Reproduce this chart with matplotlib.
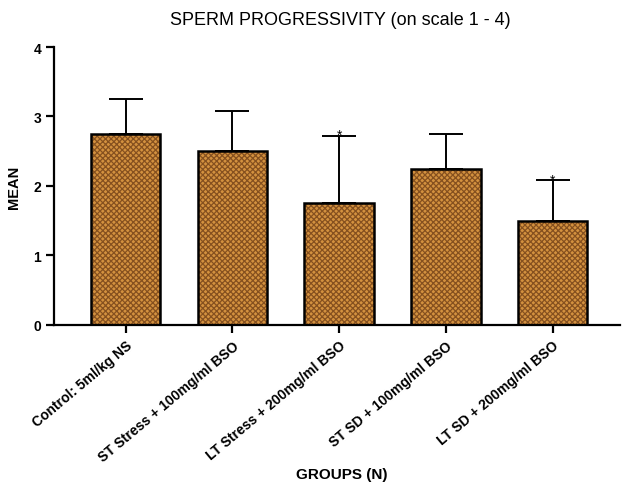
import numpy as np
import matplotlib
matplotlib.use("Agg")
import matplotlib.pyplot as plt

plt.rcParams['font.family'] = ['Liberation Sans', 'DejaVu Sans']
plt.rcParams['hatch.linewidth'] = 0.9

groups = ['Control: 5ml/kg NS', 'ST Stress + 100mg/ml BSO', 'LT Stress + 200mg/ml BSO',
          'ST SD + 100mg/ml BSO', 'LT SD + 200mg/ml BSO']
means = [2.75, 2.5, 1.75, 2.25, 1.5]
sd = [0.5, 0.58, 0.97, 0.5, 0.58]
stars = ['', '', '*', '', '*']

fig = plt.figure(figsize=(6.23, 4.85), dpi=100)
ax = fig.add_axes([0.087, 0.328, 0.908, 0.573])

x = np.arange(len(groups))
# hatched fill, then black outline on top
ax.bar(x, means, width=0.65, color='#d3913f', edgecolor='#85501f', hatch='xxxxxx', linewidth=0, zorder=2)
ax.bar(x, means, width=0.65, fill=False, edgecolor='black', linewidth=1.8, zorder=3)
ax.errorbar(x, means, yerr=[np.zeros(len(sd)), sd], fmt='none', ecolor='black',
            elinewidth=1.4, capsize=12.5, capthick=1.4, zorder=1)

for xi, m, s, st in zip(x, means, sd, stars):
    if st:
        ax.text(xi, m + s - 0.09, st, ha='center', va='bottom', fontsize=10)

ax.set_xlim(-0.67, 4.63)
ax.set_ylim(0, 4)
ax.set_yticks([0, 1, 2, 3, 4])
ax.set_xticks(x)
ax.set_xticklabels(groups, rotation=40, ha='right', rotation_mode='anchor', fontweight='bold', fontsize=10)
for lab in ax.get_yticklabels():
    lab.set_fontweight('bold')
    lab.set_fontsize(10)

for side in ['top', 'right']:
    ax.spines[side].set_visible(False)
for side in ['left', 'bottom']:
    ax.spines[side].set_linewidth(1.6)
ax.tick_params(width=1.6, length=6, direction='out')

ax.set_ylabel('MEAN', fontweight='bold', fontsize=10.5, labelpad=9)
fig.text(0.548, 0.021, 'GROUPS (N)', ha='center', va='center', fontweight='bold', fontsize=11)
fig.text(0.546, 0.957, 'SPERM PROGRESSIVITY (on scale 1 - 4)', ha='center', va='center', fontsize=13)

fig.savefig('out.png', dpi=100)
